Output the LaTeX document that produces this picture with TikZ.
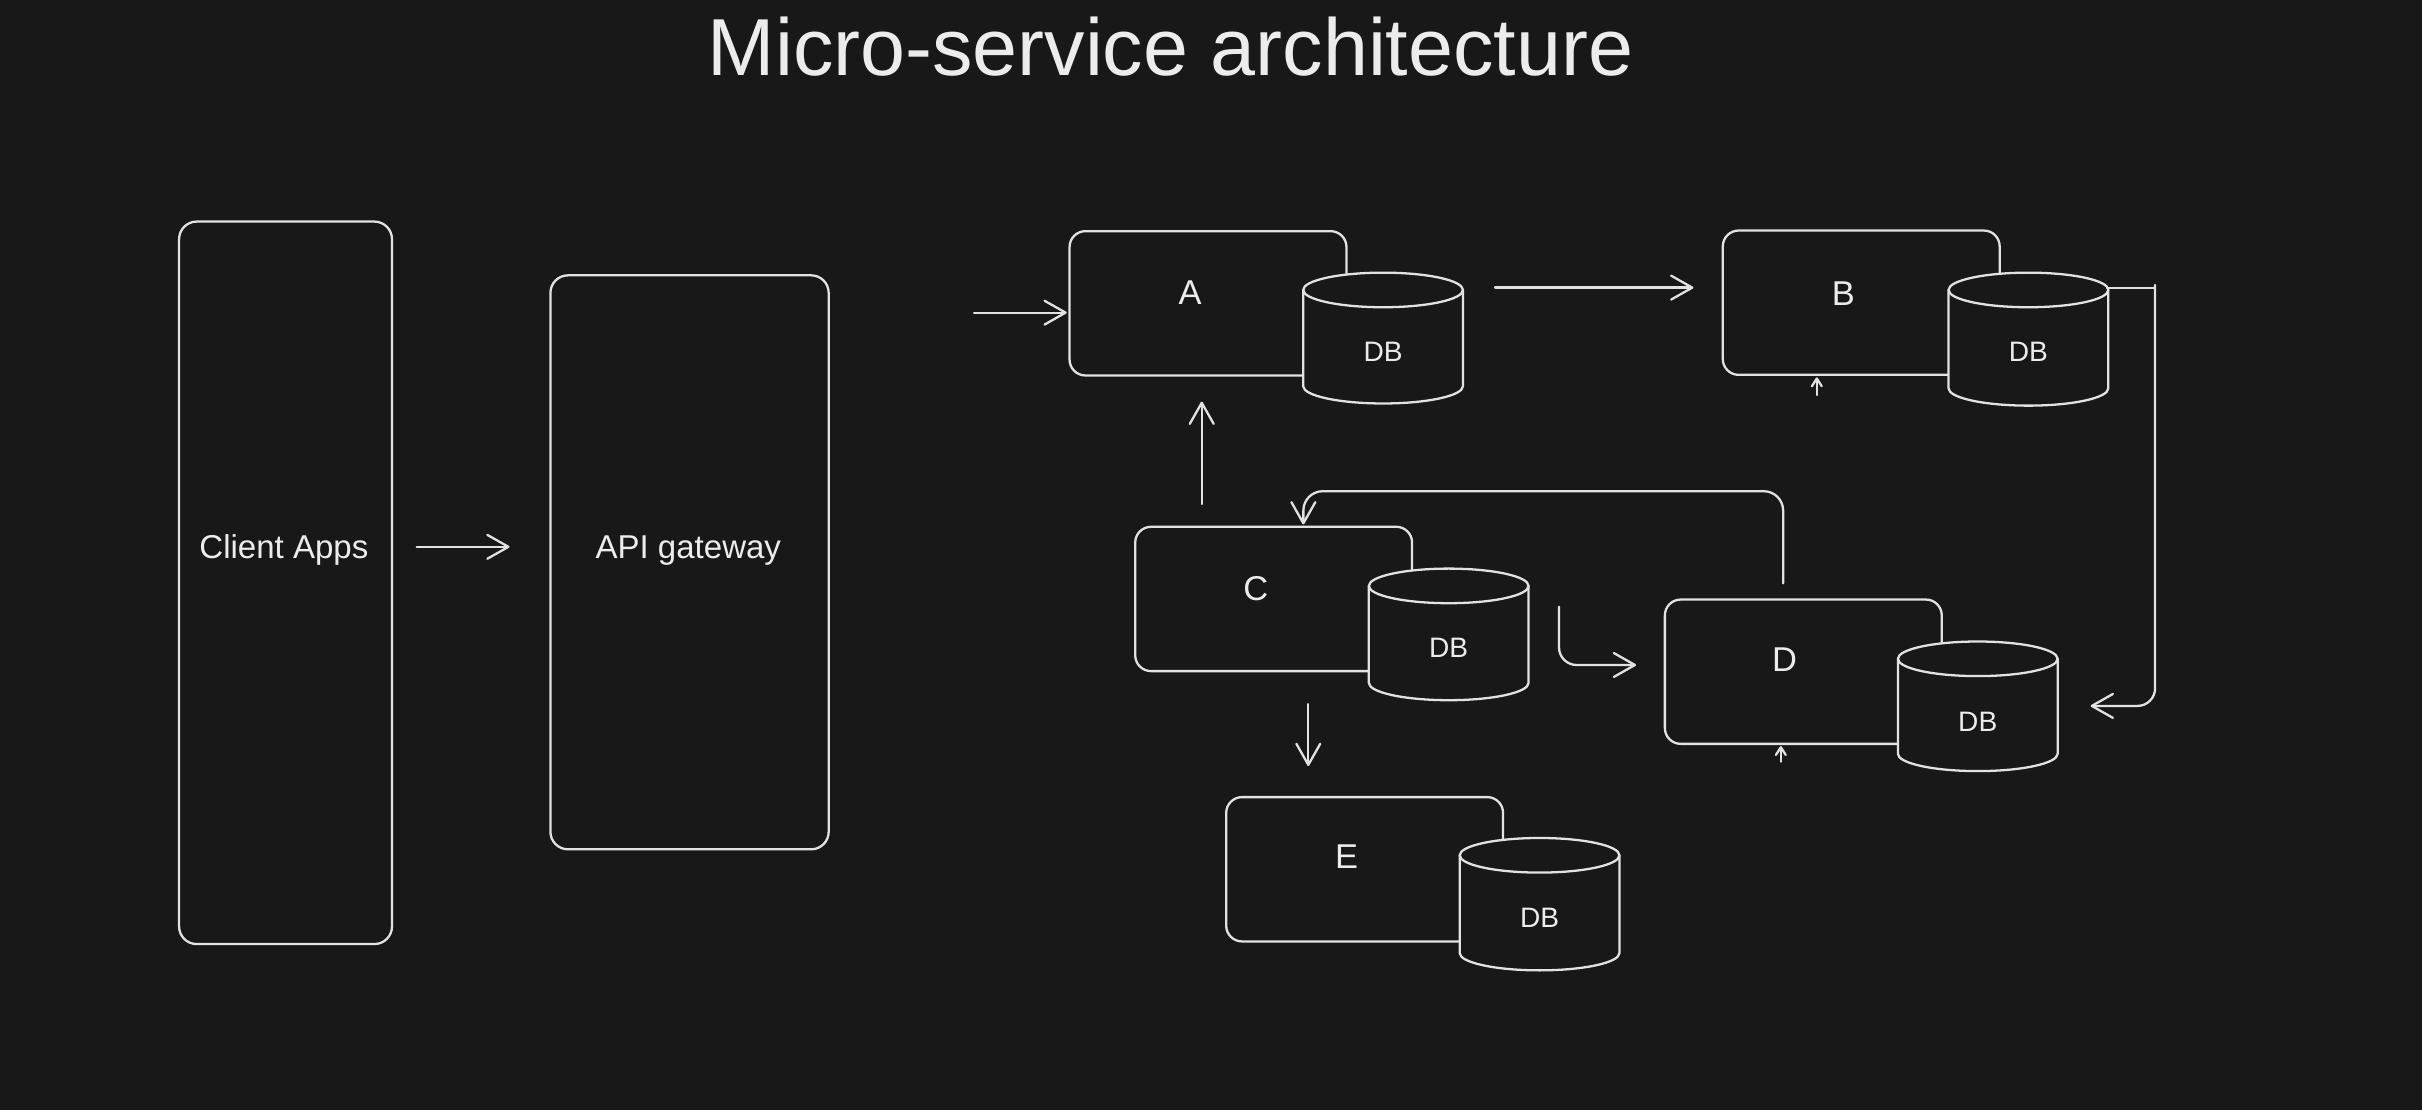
\documentclass[tikz,border=0pt]{standalone}
\usepackage{fontspec}
\setmainfont{Liberation Sans}
\usetikzlibrary{arrows.meta}
\definecolor{bg}{HTML}{181818}
\definecolor{ink}{HTML}{E2E2E2}
\definecolor{txt}{HTML}{ECECEC}
\def\su{0.43948pt}
\def\crx{22.72pt}
\def\cry{4.92pt}
\newcommand\dbcyl[5]{%
  \filldraw[fill=bg,draw=ink] ([xshift=-\crx]#2,#3) -- ([xshift=-\crx]#2,#4)
    arc[start angle=180,end angle=360,x radius=\crx,y radius=\cry]
    -- ([xshift=\crx]#2,#3)
    arc[start angle=0,end angle=180,x radius=\crx,y radius=\cry] -- cycle;
  \draw[ink] ([xshift=-\crx]#2,#3) arc[start angle=180,end angle=360,x radius=\crx,y radius=\cry];
  \node[dblabel] (#1) at (#2,#5) {DB};
}
\begin{document}
\begin{tikzpicture}[x=0.015446cm,y=-0.015446cm,
  line width=0.65pt, line cap=round, line join=round,
  bigbox/.style={draw=ink, rounded corners=5pt, inner sep=0pt, anchor=north west},
  svc/.style={draw=ink, rounded corners=4.5pt, inner sep=0pt, anchor=north west,
    minimum width=179.2*\su, minimum height=93.4*\su},
  lbl/.style={font=\fontsize{9.8}{11}\selectfont, text=txt, inner sep=0pt, text depth=0pt},
  biglbl/.style={font=\fontsize{9.4}{11}\selectfont, text=txt, inner sep=0pt, text depth=0pt},
  dblabel/.style={font=\fontsize{8}{9}\selectfont, text=txt, inner sep=0pt, text depth=0pt},
  arr/.style={draw=ink, -{Straight Barb[length=6pt,width=6.8pt,round]}},
  tinyarr/.style={draw=ink, -{Straight Barb[length=2.2pt,width=2.8pt,round]}},
  conn/.style={draw=ink}
  ]
\fill[bg] (0,0) rectangle (1568,718.6);
\useasboundingbox (0,0) rectangle (1568,718.6);

% title
\node[font=\fontsize{23}{26}\selectfont, text=txt, inner sep=0pt, text depth=0pt] (title) at (757.8,30) {Micro-service architecture};

% left boxes
\node[bigbox, minimum width=137.8*\su, minimum height=467.6*\su] (client) at (115.2,142.7) {};
\node[biglbl] (clientlbl) at (183.8,354.1) {Client Apps};
\node[bigbox, minimum width=180.1*\su, minimum height=371.5*\su] (api) at (355.6,177.5) {};
\node[biglbl] (apilbl) at (445.6,354.1) {API gateway};

% service boxes
\node[svc] (A) at (691.7,148.9) {};
\node[svc] (B) at (1114.6,148.5) {};
\node[svc] (C) at (734.2,340.3) {};
\node[svc] (D) at (1077.1,387.4) {};
\node[svc] (E) at (793.1,515.3) {};

\node[lbl] (Alab) at (770.4,189.5) {A};
\node[lbl] (Blab) at (1193.4,189.9) {B};
\node[lbl] (Clab) at (813.0,380.9) {C};
\node[lbl] (Dlab) at (1155.3,427.3) {D};
\node[lbl] (Elab) at (871.8,554.6) {E};

% databases
\dbcyl{Adb}{895.4}{187.7}{250.0}{227.7}
\dbcyl{Bdb}{1313.2}{187.7}{251.4}{228.0}
\dbcyl{Cdb}{937.9}{379.3}{442.1}{419.7}
\dbcyl{Ddb}{1280.4}{426.5}{488.0}{467.2}
\dbcyl{Edb}{996.7}{553.7}{617.0}{594.5}

% connector end points
\coordinate (ca1) at (269.8,354);
\coordinate (ca2) at (329.9,354);
\coordinate (ga1) at (630.6,202.4);
\coordinate (ga2) at (690.6,202.4);
\coordinate (ab1) at (967.9,186.2);
\coordinate (ab2) at (1096.3,186.2);
\coordinate (ca3) at (778,326.3);
\coordinate (ca4) at (778,260);
\coordinate (dc1) at (1154.4,377.7);
\coordinate (dc2) at (843.8,339.5);
\coordinate (cd1) at (1009.3,392.8);
\coordinate (cd2) at (1059.2,430.5);
\coordinate (bd0) at (1365,186.3);
\coordinate (bd1) at (1395.2,184.5);
\coordinate (bd2) at (1353.5,457);
\coordinate (ce1) at (847,455.8);
\coordinate (ce2) at (847,495.9);
\coordinate (tb1) at (1176.2,255.7);
\coordinate (tb2) at (1176.2,244.3);
\coordinate (td1) at (1152.9,493.1);
\coordinate (td2) at (1152.9,483);

% connectors
\draw[arr] (ca1) -- (ca2);
\draw[arr] (ga1) -- (ga2);
\draw[arr] (ab1) -- (ab2);
\draw[arr] (ca3) -- (ca4);
\draw[arr, rounded corners=5.5pt] (dc1) |- (843.8,318) -- (dc2);
\draw[arr, rounded corners=5pt] (cd1) |- (cd2);
\draw[conn] (bd0) -- (bd1 |- bd0);
\draw[arr, rounded corners=5pt] (bd1) |- (bd2);
\draw[arr] (ce1) -- (ce2);
\draw[tinyarr] (tb1) -- (tb2);
\draw[tinyarr] (td1) -- (td2);
\end{tikzpicture}
\end{document}
